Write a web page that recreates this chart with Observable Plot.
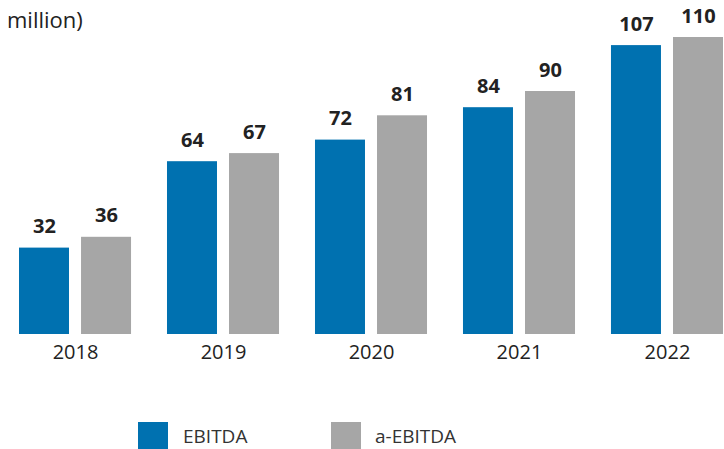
<!DOCTYPE html>
<html><head><meta charset="utf-8">
<script src="https://cdn.jsdelivr.net/npm/d3@7"></script>
<script src="https://cdn.jsdelivr.net/npm/@observablehq/plot@0.6"></script>
<style>
body{margin:0;background:#fff;font-family:"Open Sans",sans-serif;}
#wrap{position:relative;width:724px;height:449px;overflow:hidden;}
#title{position:absolute;left:7px;top:4px;font-size:22px;color:#222;line-height:30px;}
#legend{position:absolute;left:0;top:422px;width:724px;height:30px;font-size:19px;color:#333;}
.sw{position:absolute;top:0;width:30px;height:28px;}
.lb{position:absolute;top:0;line-height:28px;}
</style></head><body>
<div id="wrap">
<div id="chart"></div>
<div id="title">million)</div>
<div id="legend"></div>
</div>
<script>
const years = ["2018","2019","2020","2021","2022"];
const series = ["EBITDA","a-EBITDA"];
const ebitda = [32,64,72,84,107];
const aEbitda = [36,67,81,90,110];
const colors = ["#0071b0","#a6a6a6"];

const data = years.flatMap((y,i)=>[
  {year:y,series:series[0],value:ebitda[i]},
  {year:y,series:series[1],value:aEbitda[i]}
]);

const plot = Plot.plot({
  width:724,height:370,
  marginLeft:19,marginRight:1,marginTop:0,marginBottom:36,
  style:{fontFamily:"Open Sans, sans-serif",fontSize:"20px",color:"#222",background:"transparent"},
  fx:{domain:years,paddingInner:0.243,paddingOuter:0,round:false,label:null,tickSize:0,tickPadding:10},
  x:{domain:series,paddingInner:0.194,paddingOuter:0,round:false,axis:null},
  y:{domain:[0,334/2.7],axis:null},
  color:{domain:series,range:colors},
  marks:[
    Plot.barY(data,{fx:"year",x:"series",y:"value",fill:"series"}),
    Plot.text(data,{fx:"year",x:"series",y:"value",text:d=>String(d.value),dy:-15,lineAnchor:"bottom",fontSize:20,fontWeight:"bold",fill:"#222"})
  ]
});
document.getElementById("chart").appendChild(plot);

const legend = document.getElementById("legend");
const pos = [[138,183],[331,375]];
series.forEach((s,i)=>{
  const sw=document.createElement("div");
  sw.className="sw";sw.style.left=pos[i][0]+"px";sw.style.background=colors[i];
  const lb=document.createElement("div");
  lb.className="lb";lb.style.left=pos[i][1]+"px";lb.textContent=s;
  legend.appendChild(sw);legend.appendChild(lb);
});
</script>
</body></html>
